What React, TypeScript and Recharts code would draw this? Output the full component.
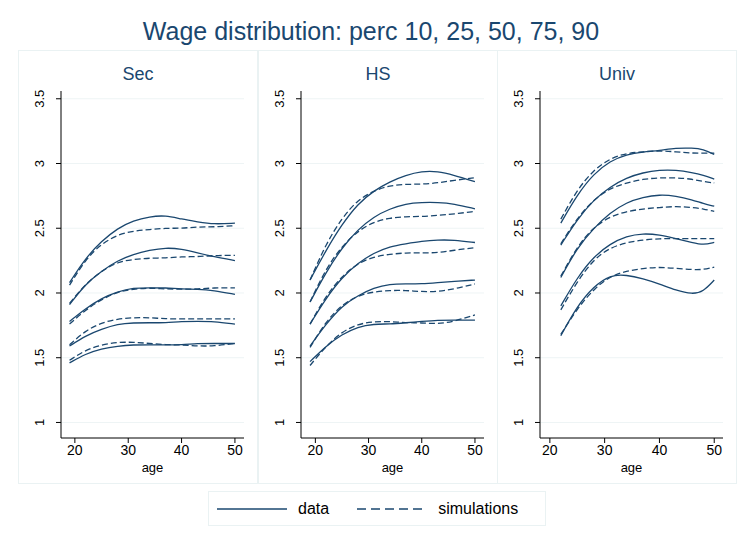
import React from 'react';
import { LineChart, Line, XAxis, YAxis, CartesianGrid } from 'recharts';

const NAVY = '#1a476f';
const FONT = '"Liberation Sans", Arial, sans-serif';

// age grids
const agesSec = [19, 22, 25, 28, 31, 34, 37, 40, 43, 46, 50];
const agesHS = [19, 22, 25, 28, 31, 34, 37, 40, 43, 46, 50];
const agesUniv = [22, 25, 28, 31, 34, 37, 40, 43, 46, 48, 50];

const yTicks = [1, 1.5, 2, 2.5, 3, 3.5];
const xTicks = [20, 30, 40, 50];

// Sec: data (d) and simulations (s), percentiles 10..90
const secD10 = [1.46, 1.53, 1.57, 1.59, 1.6, 1.6, 1.6, 1.6, 1.61, 1.61, 1.61];
const secS10 = [1.48, 1.56, 1.6, 1.62, 1.62, 1.61, 1.6, 1.6, 1.59, 1.59, 1.61];
const secD25 = [1.59, 1.67, 1.72, 1.76, 1.77, 1.77, 1.77, 1.78, 1.78, 1.78, 1.76];
const secS25 = [1.6, 1.71, 1.77, 1.8, 1.81, 1.81, 1.8, 1.8, 1.8, 1.8, 1.8];
const secD50 = [1.78, 1.88, 1.96, 2.01, 2.04, 2.04, 2.04, 2.03, 2.03, 2.02, 1.99];
const secS50 = [1.76, 1.87, 1.95, 2.01, 2.03, 2.04, 2.03, 2.03, 2.03, 2.04, 2.04];
const secD75 = [1.91, 2.07, 2.17, 2.25, 2.3, 2.33, 2.35, 2.34, 2.31, 2.28, 2.25];
const secS75 = [1.92, 2.07, 2.17, 2.24, 2.26, 2.27, 2.27, 2.28, 2.28, 2.29, 2.29];
const secD90 = [2.08, 2.27, 2.4, 2.5, 2.56, 2.59, 2.6, 2.57, 2.55, 2.53, 2.54];
const secS90 = [2.06, 2.26, 2.38, 2.45, 2.48, 2.49, 2.5, 2.5, 2.51, 2.51, 2.52];

// HS
const hsD10 = [1.47, 1.59, 1.68, 1.74, 1.76, 1.76, 1.77, 1.78, 1.79, 1.79, 1.79];
const hsS10 = [1.44, 1.59, 1.7, 1.76, 1.78, 1.78, 1.77, 1.77, 1.76, 1.78, 1.83];
const hsD25 = [1.59, 1.76, 1.9, 1.98, 2.04, 2.07, 2.07, 2.07, 2.08, 2.09, 2.1];
const hsS25 = [1.58, 1.78, 1.91, 1.98, 2.01, 2.02, 2.02, 2.01, 2.01, 2.03, 2.07];
const hsD50 = [1.76, 1.96, 2.12, 2.23, 2.31, 2.36, 2.38, 2.4, 2.41, 2.41, 2.39];
const hsS50 = [1.76, 1.98, 2.13, 2.23, 2.28, 2.3, 2.31, 2.31, 2.31, 2.33, 2.35];
const hsD75 = [1.93, 2.16, 2.35, 2.49, 2.59, 2.65, 2.69, 2.7, 2.7, 2.69, 2.65];
const hsS75 = [1.93, 2.19, 2.36, 2.48, 2.55, 2.58, 2.59, 2.59, 2.6, 2.61, 2.63];
const hsD90 = [2.1, 2.33, 2.53, 2.69, 2.79, 2.86, 2.91, 2.94, 2.94, 2.91, 2.86];
const hsS90 = [2.1, 2.38, 2.58, 2.72, 2.79, 2.83, 2.84, 2.84, 2.85, 2.87, 2.89];

// Univ
const unD10 = [1.67, 1.9, 2.05, 2.14, 2.14, 2.11, 2.07, 2.02, 1.99, 2.01, 2.1];
const unS10 = [1.68, 1.88, 2.03, 2.13, 2.17, 2.19, 2.2, 2.19, 2.18, 2.18, 2.2];
const unD25 = [1.9, 2.12, 2.28, 2.38, 2.44, 2.46, 2.45, 2.42, 2.39, 2.37, 2.39];
const unS25 = [1.87, 2.09, 2.26, 2.35, 2.39, 2.41, 2.42, 2.42, 2.42, 2.42, 2.42];
const unD50 = [2.12, 2.35, 2.5, 2.62, 2.7, 2.74, 2.76, 2.75, 2.72, 2.69, 2.67];
const unS50 = [2.13, 2.36, 2.51, 2.59, 2.63, 2.65, 2.66, 2.67, 2.66, 2.65, 2.63];
const unD75 = [2.37, 2.57, 2.72, 2.82, 2.89, 2.93, 2.95, 2.95, 2.93, 2.91, 2.88];
const unS75 = [2.38, 2.58, 2.72, 2.81, 2.85, 2.88, 2.89, 2.89, 2.88, 2.86, 2.85];
const unD90 = [2.54, 2.76, 2.92, 3.02, 3.07, 3.09, 3.1, 3.12, 3.12, 3.11, 3.07];
const unS90 = [2.57, 2.8, 2.95, 3.04, 3.08, 3.09, 3.1, 3.09, 3.08, 3.08, 3.08];

const keys = ['d10', 'd25', 'd50', 'd75', 'd90', 's10', 's25', 's50', 's75', 's90'];

const build = (ages: number[], cols: number[][]) =>
  ages.map((age, i) => {
    const row: any = { age };
    keys.forEach((k, j) => (row[k] = cols[j][i]));
    return row;
  });

const panels = [
  { title: 'Sec', left: 18, xDomain: [17.4, 51.7],
    data: build(agesSec, [secD10, secD25, secD50, secD75, secD90, secS10, secS25, secS50, secS75, secS90]) },
  { title: 'HS', left: 258, xDomain: [17.3, 51.7],
    data: build(agesHS, [hsD10, hsD25, hsD50, hsD75, hsD90, hsS10, hsS25, hsS50, hsS75, hsS90]) },
  { title: 'Univ', left: 497, xDomain: [18.2, 51.6],
    data: build(agesUniv, [unD10, unD25, unD50, unD75, unD90, unS10, unS25, unS50, unS75, unS90]) },
];

const YTick = (props: any) => {
  const { x, y, payload } = props;
  const tx = x - 10;
  return (
    <text x={tx} y={y} transform={`rotate(-90 ${tx} ${y})`} textAnchor="middle"
      fontSize={13} fill="#000" fontFamily={FONT}>
      {payload.value}
    </text>
  );
};

const Panel = ({ p }: any) => (
  <div style={{ position: 'absolute', left: p.left, top: 50, width: 240, height: 434,
    border: '1px solid #eaf2f3', boxSizing: 'border-box' }}>
    <div style={{ position: 'absolute', top: 13, width: '100%', textAlign: 'center',
      fontFamily: FONT, fontSize: 18, color: NAVY }}>{p.title}</div>
    <LineChart width={240} height={434} data={p.data}
      margin={{ top: 40, right: 15, left: 0, bottom: 13 }}>
      <CartesianGrid vertical={false} stroke="#eef4f5" horizontalValues={yTicks} />
      <XAxis dataKey="age" type="number" domain={p.xDomain} ticks={xTicks} allowDataOverflow
        stroke="#000" tickSize={5} height={34} tick={{ fill: '#000', fontSize: 14, fontFamily: FONT }}
        label={{ value: 'age', position: 'insideBottom', offset: 0, fill: '#000', fontSize: 13, fontFamily: FONT }} />
      <YAxis type="number" domain={[0.88, 3.56]} ticks={yTicks} allowDataOverflow width={42}
        stroke="#000" tickSize={5} tick={<YTick />} />
      {keys.map((k) => (
        <Line key={k} dataKey={k} type="basis" stroke={NAVY} strokeWidth={1.3} dot={false}
          strokeDasharray={k[0] === 's' ? '6 3' : undefined} isAnimationActive={false} />
      ))}
    </LineChart>
  </div>
);

export default function App() {
  return (
    <div style={{ position: 'absolute', left: 0, top: 0, width: 742, height: 542, background: '#fff' }}>
      <div style={{ position: 'absolute', top: 17, width: '100%', textAlign: 'center',
        fontFamily: FONT, fontSize: 25, color: NAVY }}>
        Wage distribution: perc 10, 25, 50, 75, 90
      </div>
      {panels.map((p) => <Panel key={p.title} p={p} />)}
      <div style={{ position: 'absolute', left: 208, top: 491, width: 338, height: 35,
        border: '1px solid #eaf2f3', boxSizing: 'border-box', display: 'flex', alignItems: 'center',
        fontFamily: FONT, fontSize: 16, color: '#000' }}>
        <svg width={70} height={10} style={{ marginLeft: 8 }}>
          <line x1={0} y1={5} x2={70} y2={5} stroke={NAVY} strokeWidth={1.3} />
        </svg>
        <span style={{ marginLeft: 11 }}>data</span>
        <svg width={70} height={10} style={{ marginLeft: 28 }}>
          <line x1={0} y1={5} x2={70} y2={5} stroke={NAVY} strokeWidth={1.3} strokeDasharray="9 5" />
        </svg>
        <span style={{ marginLeft: 11 }}>simulations</span>
      </div>
    </div>
  );
}
